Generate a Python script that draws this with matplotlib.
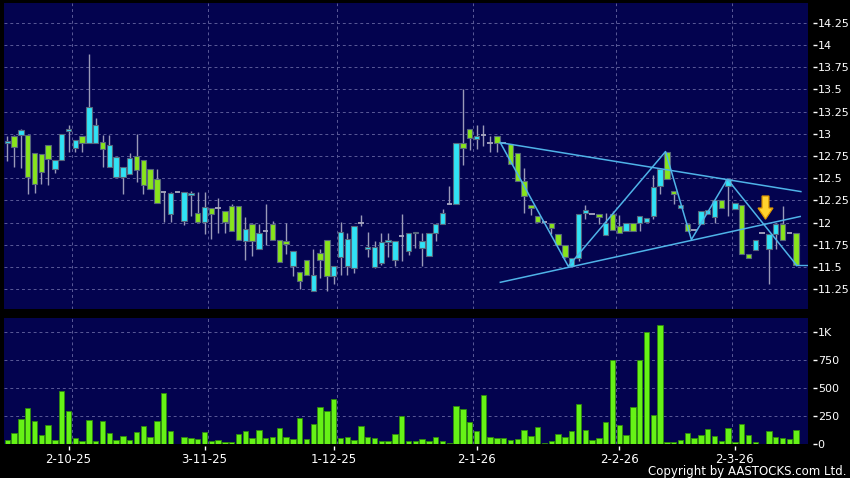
import matplotlib
matplotlib.use("Agg")
import matplotlib.pyplot as plt
import numpy as np
from matplotlib.patches import Polygon
from matplotlib.transforms import offset_copy

# ---------------- data ----------------
opens = [12.90, 12.98, 12.99, 12.99, 12.78, 12.77, 12.87, 12.60, 12.71, 13.03,
         12.84, 12.98, 12.90, 12.90, 12.91, 12.63, 12.51, 12.51, 12.55, 12.75,
         12.70, 12.60, 12.49, 12.34, 12.10, 12.34, 12.02, 12.31, 12.11, 12.01,
         12.16, 12.16, 12.13, 12.19, 12.19, 11.79, 11.99, 11.71, 11.91, 11.99,
         11.81, 11.80, 11.51, 11.45, 11.58, 11.23, 11.66, 11.81, 11.40, 11.62,
         11.51, 11.49, 12.00, 11.71, 11.50, 11.55, 11.78, 11.58, 11.85, 11.68,
         11.88, 11.72, 11.63, 11.88, 11.99, 12.21, 12.21, 12.90, 13.05, 12.94,
         12.99, 12.90, 12.98, 12.90, 12.88, 12.78, 12.47, 12.20, 12.08, 12.01,
         12.00, 11.87, 11.75, 11.51, 11.60, 12.11, 12.10, 12.10, 11.86, 12.10,
         11.96, 11.91, 12.00, 12.00, 12.01, 12.08, 12.41, 12.80, 12.36, 12.16,
         11.99, 11.92, 11.99, 12.10, 12.06, 12.25, 12.41, 12.15, 12.20, 11.65,
         11.69, 11.89, 11.70, 11.87, 11.98, 11.88, 11.88]
highs = [12.97, 12.99, 13.05, 12.99, 12.78, 12.77, 12.87, 12.71, 13.00, 13.10,
         12.93, 12.98, 13.90, 13.18, 12.99, 12.99, 12.74, 12.63, 12.78, 13.00,
         12.70, 12.60, 12.60, 12.34, 12.34, 12.34, 12.34, 12.36, 12.34, 12.34,
         12.17, 12.28, 12.13, 12.21, 12.19, 12.06, 12.00, 11.98, 12.21, 12.02,
         11.81, 12.00, 11.68, 11.45, 11.58, 11.71, 11.70, 11.81, 11.51, 12.01,
         11.89, 11.96, 12.09, 11.90, 11.80, 11.88, 11.88, 11.79, 12.10, 11.88,
         11.90, 11.89, 11.88, 11.99, 12.15, 12.41, 12.90, 13.50, 13.05, 13.10,
         13.10, 12.98, 12.98, 12.90, 12.88, 12.78, 12.62, 12.20, 12.08, 12.01,
         12.00, 11.87, 11.75, 11.60, 12.10, 12.20, 12.10, 12.10, 12.11, 12.13,
         12.09, 12.00, 12.00, 12.08, 12.05, 12.54, 12.60, 12.80, 12.36, 12.20,
         11.99, 11.92, 12.13, 12.14, 12.25, 12.25, 12.49, 12.22, 12.20, 11.65,
         11.81, 11.89, 11.87, 12.00, 12.19, 11.88, 11.88]
lows = [12.69, 12.63, 12.62, 12.32, 12.33, 12.43, 12.42, 12.56, 12.70, 12.79,
        12.80, 12.80, 12.90, 12.90, 12.63, 12.63, 12.51, 12.32, 12.55, 12.46,
        12.32, 12.38, 12.22, 12.01, 12.01, 12.34, 11.97, 12.07, 12.01, 11.87,
        11.82, 11.89, 11.89, 11.91, 11.81, 11.58, 11.63, 11.71, 11.75, 11.81,
        11.56, 11.65, 11.40, 11.25, 11.41, 11.23, 11.38, 11.23, 11.31, 11.41,
        11.41, 11.43, 11.96, 11.61, 11.49, 11.53, 11.61, 11.51, 11.57, 11.64,
        11.72, 11.51, 11.63, 11.79, 11.99, 12.21, 12.21, 12.65, 12.82, 12.83,
        12.86, 12.80, 12.80, 12.90, 12.66, 12.47, 12.11, 12.09, 12.01, 12.01,
        11.87, 11.75, 11.60, 11.51, 11.57, 12.04, 12.10, 11.99, 11.86, 11.92,
        11.89, 11.91, 11.91, 11.91, 12.01, 12.04, 12.32, 12.49, 12.21, 12.16,
        11.91, 11.92, 11.99, 12.10, 12.00, 12.16, 12.07, 12.15, 11.65, 11.60,
        11.69, 11.89, 11.31, 11.70, 11.81, 11.88, 11.52]
closes = [12.92, 12.85, 13.04, 12.51, 12.44, 12.57, 12.72, 12.71, 13.00, 13.05,
          12.93, 12.90, 13.30, 13.10, 12.83, 12.87, 12.74, 12.63, 12.73, 12.59,
          12.42, 12.38, 12.22, 12.34, 12.33, 12.34, 12.34, 12.33, 12.01, 12.18,
          12.10, 12.16, 12.01, 11.91, 11.81, 11.93, 11.80, 11.89, 11.91, 11.81,
          11.56, 11.76, 11.68, 11.35, 11.41, 11.41, 11.58, 11.40, 11.51, 11.90,
          11.82, 11.96, 12.00, 11.73, 11.73, 11.78, 11.81, 11.79, 11.85, 11.88,
          11.90, 11.80, 11.88, 11.99, 12.11, 12.21, 12.90, 12.84, 12.95, 12.97,
          12.99, 12.90, 12.90, 12.90, 12.66, 12.47, 12.30, 12.17, 12.01, 12.01,
          11.94, 11.75, 11.61, 11.60, 12.10, 12.14, 12.10, 12.06, 12.00, 11.92,
          11.89, 12.00, 11.91, 12.08, 12.05, 12.40, 12.60, 12.49, 12.32, 12.20,
          11.91, 11.92, 12.13, 12.14, 12.25, 12.16, 12.49, 12.22, 11.65, 11.60,
          11.81, 11.89, 11.87, 11.98, 11.81, 11.88, 11.53]
volumes = [30, 93, 221, 323, 206, 75, 170, 27, 475, 290,
           45, 24, 215, 21, 200, 90, 27, 66, 30, 99,
           161, 57, 206, 451, 113, 0, 54, 48, 36, 105,
           18, 30, 15, 15, 84, 116, 48, 122, 45, 60,
           143, 60, 36, 230, 42, 173, 326, 296, 403, 45,
           60, 27, 161, 54, 48, 24, 21, 87, 251, 21,
           21, 36, 18, 60, 24, 8, 335, 311, 191, 116,
           436, 54, 45, 45, 30, 36, 125, 63, 152, 6,
           24, 87, 57, 113, 355, 125, 30, 51, 197, 750,
           167, 72, 332, 747, 998, 254, 1063, 9, 12, 30,
           96, 45, 75, 134, 63, 24, 140, 12, 176, 75,
           9, 0, 113, 60, 45, 39, 122]

date_tick_pos = [9, 29, 48, 69, 90, 107]
date_tick_labels = ["2-10-25", "3-11-25", "1-12-25", "2-1-26", "2-2-26", "2-3-26"]
vgrid_pos = [9.5, 29.5, 48.5, 68.5, 89.5, 106.5]

price_ticks = [11.25, 11.5, 11.75, 12, 12.25, 12.5, 12.75, 13, 13.25, 13.5, 13.75, 14, 14.25]
price_tick_labels = ["11.25", "11.5", "11.75", "12", "12.25", "12.5", "12.75", "13",
                     "13.25", "13.5", "13.75", "14", "14.25"]
vol_ticks = [0, 250, 500, 750, 1000]
vol_tick_labels = ["0", "250", "500", "750", "1K"]

# drawn trend lines (index, price)
upper_line_x = [72.5, 116.7]
upper_line_y = [12.90, 12.35]
lower_line_x = [72.5, 116.6]
lower_line_y = [11.33, 12.07]
zigzag_x = [72.5, 82.5, 96.8, 100.6, 105.9, 116.1]
zigzag_y = [12.90, 11.51, 12.80, 11.81, 12.49, 11.52]
arrow_x = 111.5
arrow_top, arrow_neck, arrow_tip = 12.30, 12.165, 12.04

# ---------------- style ----------------
BG = "#03034f"
GRID = "#5a5a98"
UP = "#30e2f5"
DOWN = "#88e41c"
EDGE = "#56667c"
WICK = "#9a9ab8"
DOJI = "#a8a8c0"
VOLC = "#66f216"
VOLE = "#2f8a0c"
LINEC = "#4fb3e8"

n = len(opens)
x = np.arange(n)
o = np.array(opens); c = np.array(closes)
h = np.array(highs); l = np.array(lows)

fig = plt.figure(figsize=(8.5, 4.78), dpi=100, facecolor="black")
ax = fig.add_axes([4 / 850, (478 - 309) / 478, 804 / 850, 306 / 478])
axv = fig.add_axes([4 / 850, (478 - 443.5) / 478, 804 / 850, 125.5 / 478])

xlim = (-0.49, 117.75)
for a in (ax, axv):
    a.set_facecolor(BG)
    for s in a.spines.values():
        s.set_visible(False)
    a.set_xlim(*xlim)
    for gx in vgrid_pos:
        a.axvline(gx, color=GRID, lw=0.7, ls=(0, (3, 3)), zorder=0)

ax.set_ylim(11.03, 14.47)
axv.set_ylim(0, 1128)

for py in price_ticks:
    ax.axhline(py, color=GRID, lw=0.7, ls=(0, (3, 3)), zorder=0)
for vy in vol_ticks[1:]:
    axv.axhline(vy, color=GRID, lw=0.7, ls=(0, (3, 3)), zorder=0)

# wicks
ax.vlines(x, l, h, color=WICK, lw=1.0, zorder=2)
# bodies
body_w = 0.8
is_doji = np.isclose(o, c)
colors = [UP if cc > oo else DOWN for oo, cc in zip(o, c)]
nd = ~is_doji
ax.bar(x[nd], np.abs(c - o)[nd], bottom=np.minimum(o, c)[nd], width=body_w,
       color=[colors[i] for i in range(n) if nd[i]], edgecolor=EDGE, linewidth=0.8, zorder=3)
ax.hlines(o[is_doji], x[is_doji] - body_w / 2, x[is_doji] + body_w / 2,
          color=DOJI, lw=1.3, zorder=3)

# trend lines
ax.plot(upper_line_x, upper_line_y, color=LINEC, lw=1.1, zorder=4)
ax.plot(lower_line_x, lower_line_y, color=LINEC, lw=1.1, zorder=4)
ax.plot(zigzag_x, zigzag_y, color=LINEC, lw=1.1, zorder=4)
ax.plot([x[-1], xlim[1]], [c[-1], c[-1]], color=LINEC, lw=1.0, zorder=4)

# yellow arrow
sw, hw = 0.5, 1.1
arrow = Polygon([(arrow_x - sw, arrow_top), (arrow_x + sw, arrow_top),
                 (arrow_x + sw, arrow_neck), (arrow_x + hw, arrow_neck),
                 (arrow_x, arrow_tip), (arrow_x - hw, arrow_neck),
                 (arrow_x - sw, arrow_neck)],
                closed=True, facecolor="#ffd22e", edgecolor="#e09a00", lw=0.9, zorder=5)
ax.add_patch(arrow)

# volume
axv.bar(x, volumes, width=0.78, color=VOLC, edgecolor=VOLE, linewidth=0.6, zorder=2)

# axes ticks / labels
for a, ticks, labels in ((ax, price_ticks, price_tick_labels), (axv, vol_ticks, vol_tick_labels)):
    a.yaxis.tick_right()
    a.set_yticks(ticks, labels=labels)
    a.tick_params(axis="y", length=0, pad=7, labelsize=8, labelcolor="white")
    tr = offset_copy(a.get_yaxis_transform(), fig=fig, x=6.8, y=0, units="dots")
    a.plot([1] * len(ticks), ticks, marker="_", ms=2.2, mew=1.0, color="white",
           ls="none", transform=tr, clip_on=False)

ax.set_xticks([])
axv.set_xticks(date_tick_pos, labels=date_tick_labels)
axv.tick_params(axis="x", length=0, pad=7, labelsize=8.5, labelcolor="white")
trx = offset_copy(axv.get_xaxis_transform(), fig=fig, x=0, y=-4.8, units="dots")
axv.plot(date_tick_pos, [0] * len(date_tick_pos), marker="|", ms=2.4, mew=1.0,
         color="white", ls="none", transform=trx, clip_on=False)

fig.text(846 / 850, (478 - 471.5) / 478, "Copyright by AASTOCKS.com Ltd.",
         ha="right", va="center", color="white", fontsize=8.5)

fig.savefig("out.png", dpi=100, facecolor="black")
